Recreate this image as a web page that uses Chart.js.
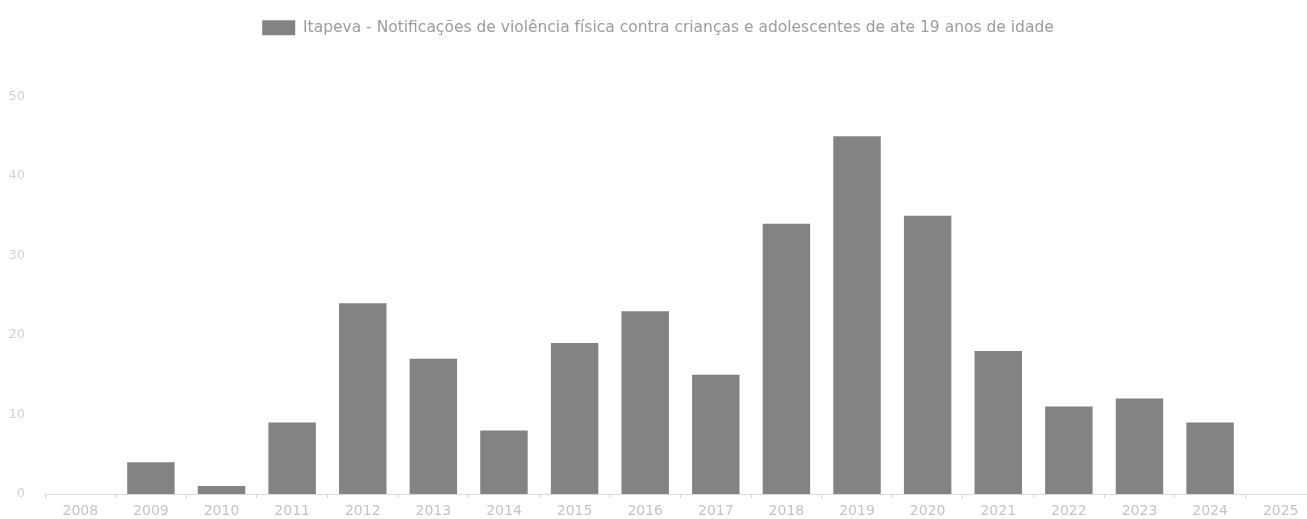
<!DOCTYPE html>
<html>
<head>
<meta charset="utf-8">
<script src="https://cdn.jsdelivr.net/npm/chart.js@4.4.1/dist/chart.umd.min.js"></script>
<style>
  html, body { margin: 0; padding: 0; background: #fff; overflow: hidden; }
  #wrap { width: 1316px; height: 519px; position: relative; }
</style>
</head>
<body>
<div id="wrap"><canvas id="barChart"></canvas></div>
<script>
const anos = ['2008', '2009', '2010', '2011', '2012', '2013', '2014', '2015', '2016',
    '2017', '2018', '2019', '2020', '2021', '2022', '2023', '2024', '2025'];
const notificacoes = [0, 4, 1, 9, 24, 17, 8, 19, 23, 15, 34, 45, 35, 18, 11, 12, 9, 0];
const rotulo = 'Itapeva - Notificações de violência física contra crianças e adolescentes de ate 19 anos de idade';
const yTicks = [0, 10, 20, 30, 40, 50];

// push the plot area down below the legend
const legendSpacer = {
    id: 'legendSpacer',
    beforeInit(chart) {
        const fitOrig = chart.legend.fit;
        chart.legend.fit = function() {
            fitOrig.bind(chart.legend)();
            this.height += 51;
        };
    }
};

new Chart('barChart', {
    type: 'bar',
    data: {
        labels: anos,
        datasets: [{
            label: rotulo,
            data: notificacoes,
            backgroundColor: '#838383',
            borderWidth: 0,
            barPercentage: 0.84,
            categoryPercentage: 0.8
        }]
    },
    options: {
        responsive: true,
        maintainAspectRatio: false,
        animation: false,
        layout: { padding: { top: 10, left: 0, right: 0, bottom: 0 } },
        scales: {
            x: {
                grid: {
                    display: true,
                    drawOnChartArea: false,
                    drawTicks: true,
                    tickLength: 4,
                    color: '#d6d6d6'
                },
                border: { display: true, color: '#dcdcdc' },
                ticks: {
                    color: '#c4c4c4',
                    padding: 5,
                    font: { family: 'DejaVu Sans', size: 14 }
                },
                afterFit(scale) { scale.height = 25; }
            },
            y: {
                min: 0,
                max: 50,
                grid: { display: false },
                border: { display: false },
                afterBuildTicks(scale) {
                    scale.ticks = yTicks.map(v => ({ value: v }));
                },
                ticks: {
                    color: '#d2d2d2',
                    padding: 12,
                    font: { family: 'DejaVu Sans', size: 13 }
                },
                afterFit(scale) { scale.width = 45; }
            }
        },
        plugins: {
            legend: {
                display: true,
                position: 'top',
                labels: {
                    boxWidth: 33,
                    boxHeight: 15,
                    color: '#9c9c9c',
                    font: { family: 'DejaVu Sans', size: 15.5 }
                }
            },
            tooltip: { enabled: false }
        }
    },
    plugins: [legendSpacer]
});
</script>
</body>
</html>
